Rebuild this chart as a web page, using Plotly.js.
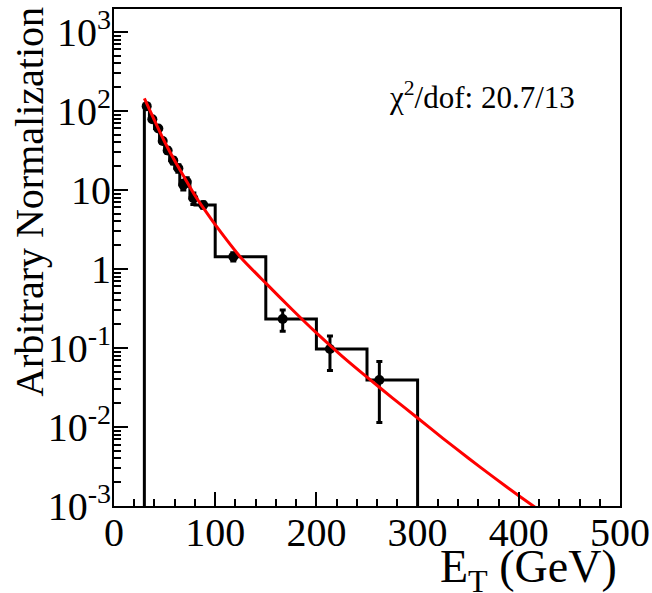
<!DOCTYPE html>
<html>
<head>
<meta charset="utf-8">
<script src="https://cdn.plot.ly/plotly-3.0.1.min.js"></script>
<style>html,body{margin:0;padding:0;background:#fff;}#chart{width:652px;height:593px;}</style>
</head>
<body>
<div id="chart"></div>
<script>
// ---- data ----
const binEdges = [30, 35, 40, 45, 50, 55, 60, 65, 70, 75, 80, 100, 150, 200, 250, 300];
const binValues = [115, 78.5, 60, 41.7, 31.5, 23.5, 18.8, 11.6, 12.7, 7.85, 6.46, 1.43, 0.233, 0.097, 0.0394];
const pointX = [32.3, 37.9, 43.8, 48.1, 53.0, 58.6, 63.6, 68.5, 71.8, 78.4, 88.2, 117.9, 166.7, 213.4, 262.2];
const pointErr = [5, 4.1, 3.6, 3.0, 2.6, 2.2, 2.0, 1.6, 1.6, 1.3, 0.6, 0.17, 0.07, 0.045, 0.028];
const fitX = [30, 40, 50, 60, 70, 80, 90, 100, 125, 150, 175, 200, 225, 250, 275, 300, 325, 350, 375, 400, 425];
const fitY = [144.5, 75.9, 40.7, 23.4, 14.1, 8.51, 5.50, 3.63, 1.41, 0.661, 0.316, 0.155, 0.0794, 0.0427, 0.0234, 0.0130, 0.00719, 0.00405, 0.00232, 0.00135, 0.00080];
const yTickVals = [1e-3, 1e-2, 1e-1, 1, 10, 100, 1000];
const yTickText = ['10<sup>-3</sup>', '10<sup>-2</sup>', '10<sup>-1</sup>', '1', '10', '10<sup>2</sup>', '10<sup>3</sup>'];
const xTickVals = [0, 100, 200, 300, 400, 500];
const chiText = '\u03c7<sup>2</sup>/dof: 20.7/13';
const yTitle = 'Arbitrary Normalization';
const xTitle = 'E<sub>T</sub> (GeV)';

const yMin = 1e-3;
// step histogram path built from bin edges/values
const hx = [binEdges[0]], hy = [yMin];
for (let i = 0; i < binValues.length; i++) { hx.push(binEdges[i]); hy.push(binValues[i]); }
hx.push(binEdges[binEdges.length - 1]); hy.push(yMin);

// minor tick positions for log axis
const yMinor = [];
for (let e = -3; e <= 3; e++) for (let m = 2; m <= 9; m++) yMinor.push(m * Math.pow(10, e));

const font = 'Liberation Serif, Times New Roman, serif';

const traces = [
  {x: hx, y: hy, type: 'scatter', mode: 'lines', line: {shape: 'hv', color: '#000', width: 3}, hoverinfo: 'skip'},
  {x: pointX, y: binValues, type: 'scatter', mode: 'markers',
   marker: {color: '#000', size: 10},
   error_y: {type: 'data', array: pointErr, visible: true, color: '#000', thickness: 3, width: 3}},
  {x: fitX, y: fitY, type: 'scatter', mode: 'lines', line: {color: '#ff0000', width: 3, shape: 'spline', smoothing: 0.6}}
];

const layout = {
  width: 652, height: 593,
  margin: {l: 114, r: 32, t: 9, b: 87},
  paper_bgcolor: '#fff', plot_bgcolor: '#fff',
  showlegend: false,
  font: {family: font, color: '#000', size: 40},
  xaxis: {
    range: [0, 500], tickmode: 'array', tickvals: xTickVals,
    ticks: 'inside', ticklen: 14, tickwidth: 2, tickcolor: '#000',
    showline: true, linewidth: 2, linecolor: '#000', mirror: true,
    showgrid: false, zeroline: false,
    tickfont: {family: font, size: 40, color: '#000'},
    ticklabelstandoff: -10,
    minor: {dtick: 20, tick0: 0, ticks: 'inside', ticklen: 7, tickwidth: 2, tickcolor: '#000', showgrid: false}
  },
  yaxis: {
    type: 'log', range: [-3, 3.29], tickmode: 'array', tickvals: yTickVals, ticktext: yTickText,
    ticks: 'inside', ticklen: 14, tickwidth: 2, tickcolor: '#000',
    showline: true, linewidth: 2, linecolor: '#000', mirror: true,
    showgrid: false, zeroline: false,
    tickfont: {family: font, size: 40, color: '#000'},
    ticklabelstandoff: -7,
    minor: {tickmode: 'array', tickvals: yMinor, ticks: 'inside', ticklen: 7, tickwidth: 2, tickcolor: '#000', showgrid: false}
  },
  annotations: [
    {text: chiText, xref: 'paper', yref: 'paper', x: 0.5395, y: 0.825, xanchor: 'left', yanchor: 'middle',
     showarrow: false, font: {family: font, size: 31, color: '#000'}},
    {text: yTitle, xref: 'paper', yref: 'paper', x: -0.166, y: 0.612, xanchor: 'center', yanchor: 'middle',
     textangle: -90, showarrow: false, font: {family: font, size: 40, color: '#000'}},
    {text: xTitle, xref: 'paper', yref: 'paper', x: 0.998, y: -0.128, xanchor: 'right', yanchor: 'middle',
     showarrow: false, font: {family: font, size: 46, color: '#000'}}
  ]
};

Plotly.newPlot('chart', traces, layout, {displayModeBar: false, staticPlot: true});
</script>
</body>
</html>
